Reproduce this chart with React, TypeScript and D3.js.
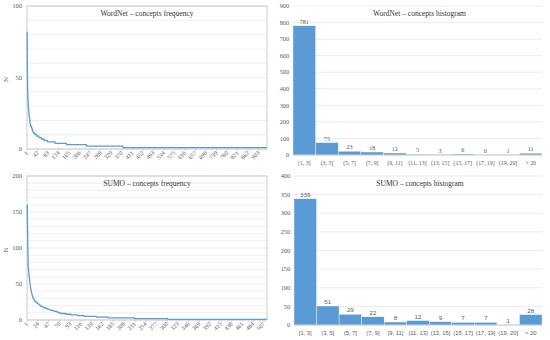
import React from "react";
import * as d3 from "d3";

// ---- Data ----
const histCategories = ["[1, 3]", "(3, 5]", "(5, 7]", "(7, 9]", "(9, 11]", "(11, 13]", "(13, 15]", "(15, 17]", "(17, 19]", "(19, 20]", "> 20"];
const wordnetHist = [781, 75, 23, 18, 12, 5, 3, 6, 0, 1, 11];
const sumoHist = [339, 51, 29, 22, 8, 12, 9, 7, 7, 1, 28];

// Sorted concept frequencies as runs (value, how many concepts)
const wordnetLevels = [82, 55, 42, 36, 32, 29, 27, 25, 23, 22, 21, 20, 17, 16, 15, 14, 13, 12, 11, 10, 9, 8, 7, 6, 5, 4, 3, 2, 1];
const wordnetCounts = [1, 1, 1, 1, 1, 1, 1, 1, 1, 1, 1, 1, 2, 4, 1, 2, 2, 3, 5, 7, 8, 10, 10, 13, 30, 45, 78, 142, 561];
const sumoLevels = [160, 110, 75, 68, 62, 56, 50, 46, 42, 39, 36, 34, 32, 30, 29, 28, 27, 26, 25, 24, 23, 22, 21, 20, 19, 18, 17, 16, 15, 14, 13, 12, 11, 10, 9, 8, 7, 6, 5, 4, 3, 2, 1];
const sumoCounts = [1, 1, 1, 1, 1, 1, 1, 1, 1, 1, 1, 1, 1, 1, 1, 1, 1, 1, 2, 2, 2, 2, 2, 1, 4, 3, 4, 3, 4, 5, 6, 6, 4, 4, 11, 11, 14, 15, 25, 26, 56, 71, 212];

const wordnetXTicks = [1, 42, 83, 124, 165, 206, 247, 288, 329, 370, 411, 452, 493, 534, 575, 616, 657, 698, 739, 780, 821, 862, 903];
const sumoXTicks = [1, 24, 47, 70, 93, 116, 139, 162, 185, 208, 231, 254, 277, 300, 323, 346, 369, 392, 415, 438, 461, 484, 507];

const BLUE = "#5B9BD5";
const GRID = "#e3e3e3";
const AXIS = "#bfbfbf";
const TEXT = "#595959";
const SERIF = "'Liberation Serif', 'Times New Roman', serif";

function expand(levels: number[], counts: number[]) {
  const out: { r: number; v: number }[] = [];
  let r = 1;
  levels.forEach((v, i) => {
    for (let k = 0; k < counts[i]; k++) out.push({ r: r++, v });
  });
  return out;
}

type FreqProps = {
  left: number; right: number; top: number; bottom: number;
  levels: number[]; counts: number[]; yMax: number; yMajor: number; yMinor: number;
  xTicks: number[]; title: string;
};

function FreqChart(p: FreqProps) {
  const data = expand(p.levels, p.counts);
  const n = data.length;
  const x = d3.scaleLinear().domain([0.5, n + 0.5]).range([p.left, p.right]);
  const y = d3.scaleLinear().domain([0, p.yMax]).range([p.bottom, p.top]);
  const line = d3.line<{ r: number; v: number }>().x(d => x(d.r)).y(d => y(d.v));
  const minor = d3.range(0, p.yMax + 0.001, p.yMinor);
  const major = d3.range(0, p.yMax + 0.001, p.yMajor);
  return (
    <g>
      {minor.map(v => (
        <line key={"g" + v} x1={p.left} x2={p.right} y1={y(v)} y2={y(v)} stroke={GRID} strokeWidth={0.6} />
      ))}
      <rect x={p.left} y={p.top} width={p.right - p.left} height={p.bottom - p.top} fill="none" stroke={AXIS} strokeWidth={0.8} />
      {major.map(v => (
        <text key={"y" + v} x={p.left - 5} y={y(v) + 2.2} textAnchor="end" fontSize={6.5} fill={TEXT} fontFamily={SERIF}>{v}</text>
      ))}
      <text transform={`translate(${p.left - 19},${(p.top + p.bottom) / 2 + 2}) rotate(-90)`} textAnchor="middle" fontSize={7} fill={TEXT} fontFamily={SERIF}>N</text>
      {p.xTicks.map(t => (
        <g key={"x" + t}>
          <line x1={x(t)} x2={x(t)} y1={p.bottom} y2={p.bottom + 2} stroke={AXIS} strokeWidth={0.6} />
          <text transform={`translate(${x(t) + 1.5},${p.bottom + 4.5}) rotate(-45)`} textAnchor="end" fontSize={6} fill={TEXT} fontFamily={SERIF}>{t}</text>
        </g>
      ))}
      <path d={line(data) || ""} fill="none" stroke={BLUE} strokeWidth={1.3} />
      <text x={(p.left + p.right) / 2} y={p.top + 10} textAnchor="middle" fontSize={7.5} fill="#333" fontFamily={SERIF}>{p.title}</text>
    </g>
  );
}

type HistProps = {
  left: number; right: number; top: number; bottom: number;
  values: number[]; yMax: number; yStep: number; title: string; font: string;
};

function HistChart(p: HistProps) {
  const x = d3.scaleBand<string>().domain(histCategories).range([p.left, p.right]).paddingInner(0).paddingOuter(0);
  const y = d3.scaleLinear().domain([0, p.yMax]).range([p.bottom, p.top]);
  const ticks = d3.range(0, p.yMax + 0.001, p.yStep);
  return (
    <g>
      {ticks.map(v => (
        <line key={"g" + v} x1={p.left} x2={p.right} y1={y(v)} y2={y(v)} stroke={GRID} strokeWidth={0.7} />
      ))}
      {ticks.map(v => (
        <text key={"y" + v} x={p.left - 4} y={y(v) + 2.2} textAnchor="end" fontSize={6.2} fill={TEXT} fontFamily={SERIF}>{v}</text>
      ))}
      {histCategories.map((c, i) => (
        <rect key={c} x={x(c)} y={y(p.values[i])} width={x.bandwidth()} height={p.bottom - y(p.values[i])} fill={BLUE} stroke="#fff" strokeWidth={0.4} />
      ))}
      <line x1={p.left} x2={p.right} y1={p.bottom} y2={p.bottom} stroke={AXIS} strokeWidth={0.8} />
      {histCategories.map((c, i) => (
        <text key={"v" + c} x={(x(c) || 0) + x.bandwidth() / 2} y={y(p.values[i]) - 2} textAnchor="middle" fontSize={6.2} fill={TEXT} fontFamily={p.font}>{p.values[i]}</text>
      ))}
      {histCategories.map(c => (
        <text key={"l" + c} x={(x(c) || 0) + x.bandwidth() / 2} y={p.bottom + 10} textAnchor="middle" fontSize={5.8} fill={TEXT} fontFamily={p.font}>{c}</text>
      ))}
      <text x={(p.left + p.right) / 2 + 2} y={p.top + 10} textAnchor="middle" fontSize={7.5} fill="#333" fontFamily={SERIF}>{p.title}</text>
    </g>
  );
}

export default function App() {
  return (
    <svg width={550} height={340} style={{ position: "absolute", left: 0, top: 0, background: "#fff" }}>
      <rect x={0} y={0} width={550} height={340} fill="#fff" />
      <FreqChart left={27} right={267} top={6} bottom={149} levels={wordnetLevels} counts={wordnetCounts}
        yMax={100} yMajor={50} yMinor={10} xTicks={wordnetXTicks} title="WordNet – concepts frequency" />
      <FreqChart left={27} right={267} top={176} bottom={320} levels={sumoLevels} counts={sumoCounts}
        yMax={200} yMajor={50} yMinor={10} xTicks={sumoXTicks} title="SUMO – concepts frequency" />
      <HistChart left={293} right={542} top={6} bottom={155} values={wordnetHist} yMax={900} yStep={100}
        title="WordNet – concepts histogram" font={SERIF} />
      <HistChart left={294} right={542} top={176} bottom={325} values={sumoHist} yMax={400} yStep={50}
        title="SUMO – concepts histogram" font={"'Liberation Sans', Arial, sans-serif"} />
    </svg>
  );
}
